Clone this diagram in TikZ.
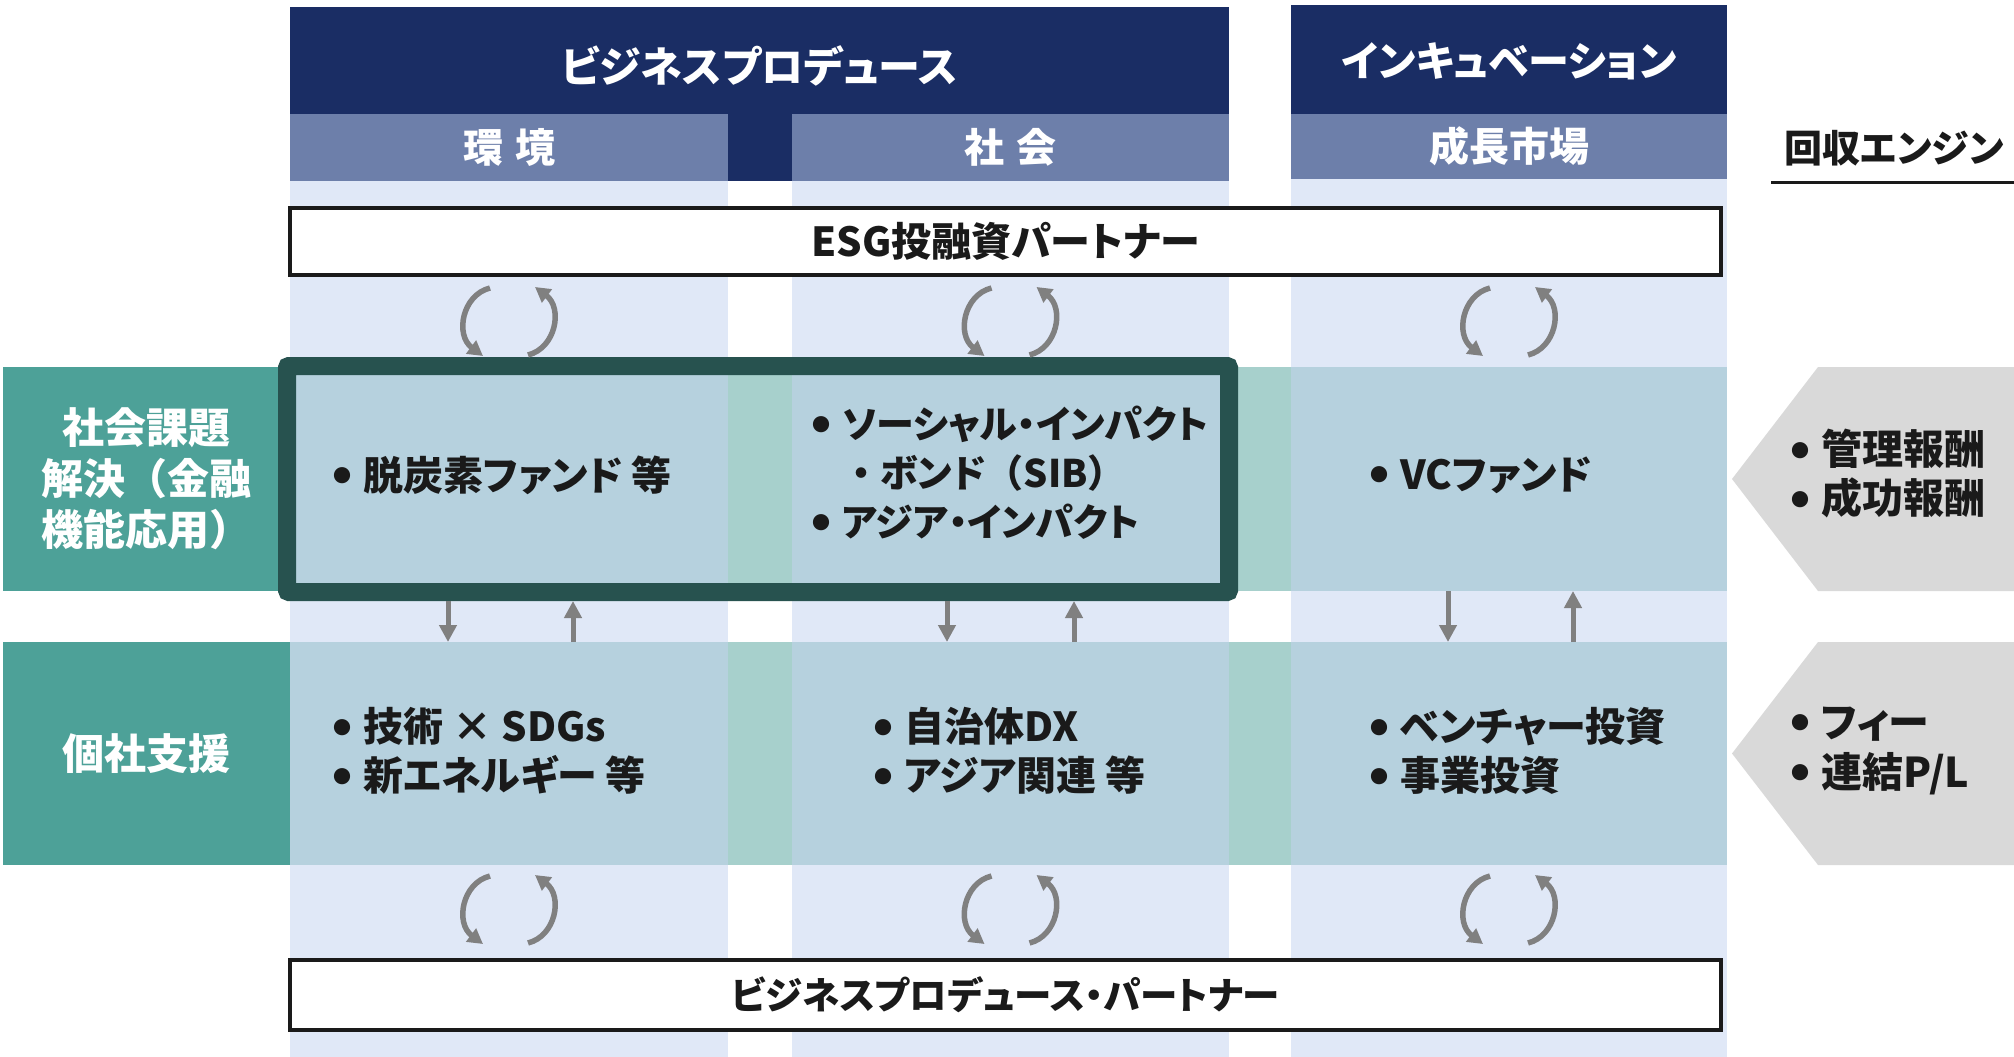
\documentclass[tikz,border=0pt]{standalone}
\usepackage{fontspec}
\setmainfont{Noto Sans CJK JP}[RawFeature=+palt]
\newfontfamily\jpfull{Noto Sans CJK JP}
\usetikzlibrary{arrows.meta,calc}
\definecolor{navy}{RGB}{26,45,100}
\definecolor{subnavy}{RGB}{109,127,170}
\definecolor{colbg}{RGB}{224,232,247}
\definecolor{rowblue}{RGB}{182,209,222}
\definecolor{gapteal}{RGB}{167,208,204}
\definecolor{tealbox}{RGB}{77,161,152}
\definecolor{frame}{RGB}{39,82,79}
\definecolor{pentgray}{RGB}{217,217,217}
\definecolor{arrgray}{RGB}{128,128,128}
\definecolor{ink}{RGB}{26,26,26}
\newcommand\fsz[2]{\fontsize{#1}{#2}\selectfont}
\newcommand\bul{\raisebox{7.5pt}{\fontsize{18}{18}\selectfont ●}\hspace{12pt}}
\begin{document}
\begin{tikzpicture}[x=1pt,y=-1pt,
  bg/.style={inner sep=0pt,outer sep=0pt,anchor=north west,draw=none},
  htxt/.style={font=\bfseries\fsz{42}{42},text=white,inner sep=0pt},
  stxt/.style={font=\bfseries\fsz{40}{40},text=white},
  btxt/.style={font=\bfseries\fsz{40}{49},text=ink,align=left,anchor=west,inner sep=0pt},
  ltxt/.style={font=\jpfull\bfseries\fsz{42}{51},text=white,align=center},
  ptxt/.style={font=\bfseries\fsz{40}{40},text=ink},
  varr/.style={draw=arrgray,line width=5pt,-{Triangle[width=17pt,length=17pt]}},
  cycarr/.style={draw=arrgray,line width=5.5pt,-{Triangle[width=16pt,length=15pt]}},
  cyc/.pic={
    \draw[cycarr] (-19,-33.5) .. controls (-47,-26.5) and (-54,13.5) .. (-26,34.5);
    \draw[cycarr] (19,33.5) .. controls (47,26.5) and (54,-13.5) .. (26,-34.5);
  }]
\useasboundingbox (0,0) rectangle (2014,1057);
% column backgrounds
\node[bg,fill=colbg,minimum width=438pt,minimum height=876pt] (colA) at (290,181) {};
\node[bg,fill=colbg,minimum width=437pt,minimum height=876pt] (colB) at (792,181) {};
\node[bg,fill=colbg,minimum width=436pt,minimum height=878pt] (colC) at (1291,179) {};
% headers
\node[bg,fill=navy,minimum width=939pt,minimum height=174pt] (bpH) at (290,7) {};
\node[bg,fill=navy,minimum width=436pt,minimum height=109pt] (incH) at (1291,5) {};
\node[htxt] (bpT) at (759.5,66) {ビジネスプロデュース};
\node[htxt,font=\bfseries\fsz{41}{41}] (incT) at (1509,61) {インキュベーション};
\node[bg,fill=subnavy,minimum width=438pt,minimum height=67pt,stxt] (subA) at (290,114) {環\hspace{0.3em}境};
\node[bg,fill=subnavy,minimum width=437pt,minimum height=67pt,stxt] (subB) at (792,114) {社\hspace{0.3em}会};
\node[bg,fill=subnavy,minimum width=436pt,minimum height=65pt,stxt] (subC) at (1291,114) {成長市場};
% ESG partner box
\node[bg,draw=ink,line width=4pt,fill=white,minimum width=1431pt,minimum height=67pt,ptxt] (esg) at (290,208) {ESG投融資パートナー};
% row 1
\node[bg,fill=tealbox,minimum width=287pt,minimum height=224pt,ltxt] (lab1) at (3,367) {社会課題\\解決（金融\\機能応用）};
\node[bg,fill=rowblue,minimum width=438pt,minimum height=224pt] (r1a) at (290,367) {};
\node[bg,fill=gapteal,minimum width=64pt,minimum height=224pt] (g1a) at (728,367) {};
\node[bg,fill=rowblue,minimum width=437pt,minimum height=224pt] (r1b) at (792,367) {};
\node[bg,fill=gapteal,minimum width=62pt,minimum height=224pt] (g1b) at (1229,367) {};
\node[bg,fill=rowblue,minimum width=436pt,minimum height=224pt] (r1c) at (1291,367) {};
% row 2
\node[bg,fill=tealbox,minimum width=287pt,minimum height=223pt,ltxt] (lab2) at (3,642) {個社支援};
\node[bg,fill=rowblue,minimum width=438pt,minimum height=223pt] (r2a) at (290,642) {};
\node[bg,fill=gapteal,minimum width=64pt,minimum height=223pt] (g2a) at (728,642) {};
\node[bg,fill=rowblue,minimum width=437pt,minimum height=223pt] (r2b) at (792,642) {};
\node[bg,fill=gapteal,minimum width=62pt,minimum height=223pt] (g2b) at (1229,642) {};
\node[bg,fill=rowblue,minimum width=436pt,minimum height=223pt] (r2c) at (1291,642) {};
% highlight frame
\node[bg,draw=frame,line width=18pt,rounded corners=2pt,outer sep=9pt,minimum width=942pt,minimum height=226pt] (frm) at (278,357) {};
% vertical arrows
\coordinate (aD) at ($(r1a.south)+(-61,0)$);
\coordinate (aU) at ($(r1a.south)+(64,0)$);
\coordinate (bD) at ($(r1b.south)+(-63.5,0)$);
\coordinate (bU) at ($(r1b.south)+(63.5,0)$);
\coordinate (cD) at ($(r1c.south)+(-61,0)$);
\coordinate (cU) at ($(r1c.south)+(64,0)$);
\draw[varr] (aD |- frm.south) -- (aD |- r2a.north);
\draw[varr] (aU |- r2a.north) -- (aU |- frm.south);
\draw[varr] (bD |- frm.south) -- (bD |- r2b.north);
\draw[varr] (bU |- r2b.north) -- (bU |- frm.south);
\draw[varr] (cD |- r1c.south) -- (cD |- r2c.north);
\draw[varr] (cU |- r2c.north) -- (cU |- r1c.south);
% cycle symbols
\coordinate (cyA1) at (509,321.5);
\coordinate (cyB1) at (1010.5,321.5);
\coordinate (cyC1) at (1509,321.5);
\coordinate (cyA2) at (509,909.5);
\coordinate (cyB2) at (1010.5,909.5);
\coordinate (cyC2) at (1509,909.5);
\pic at (cyA1) {cyc};
\pic at (cyB1) {cyc};
\pic at (cyC1) {cyc};
\pic at (cyA2) {cyc};
\pic at (cyB2) {cyc};
\pic at (cyC2) {cyc};
% bottom partner box
\node[bg,draw=ink,line width=4pt,fill=white,minimum width=1431pt,minimum height=70pt,ptxt,font=\bfseries\fsz{37.5}{37.5}] (bpp) at (290,960) {ビジネスプロデュース・パートナー};
% recovery engine
\fill[pentgray] (1818,367) -- (2014,367) -- (2014,591) -- (1818,591) -- (1732,479) -- cycle;
\fill[pentgray] (1818,642) -- (2014,642) -- (2014,865) -- (1818,865) -- (1732,753.5) -- cycle;
\node[ptxt,inner sep=0pt,font=\bfseries\fsz{38}{38}] (eng) at (1894,148) {回収エンジン};
\draw[ink,line width=3pt] (1771,182) -- (2014,182);
% texts
\node[btxt] (t1a) at (333,475) {\bul 脱炭素ファンド 等};
\node[btxt,font=\bfseries\fsz{38}{49}] (t1b) at (812,473) {\bul ソーシャル・インパクト\\\phantom{\bul}{\jpfull ・}ボンド{\jpfull （}SIB{\jpfull ）}\\\bul アジア・インパクト};
\node[btxt] (t1c) at (1370,475) {\bul VCファンド};
\node[btxt] (t2a) at (333,751) {\bul 技術 × SDGs\\\bul 新エネルギー 等};
\node[btxt] (t2b) at (874,751) {\bul 自治体DX\\\bul アジア関連 等};
\node[btxt] (t2c) at (1370,751) {\bul ベンチャー投資\\\bul 事業投資};
\node[btxt,font=\bfseries\fsz{41}{49}] (p1t) at (1791,474) {\bul 管理報酬\\\bul 成功報酬};
\node[btxt,font=\bfseries\fsz{41}{50}] (p2t) at (1791,751) {\bul フィー\\\bul 連結P/L};
\end{tikzpicture}
\end{document}
